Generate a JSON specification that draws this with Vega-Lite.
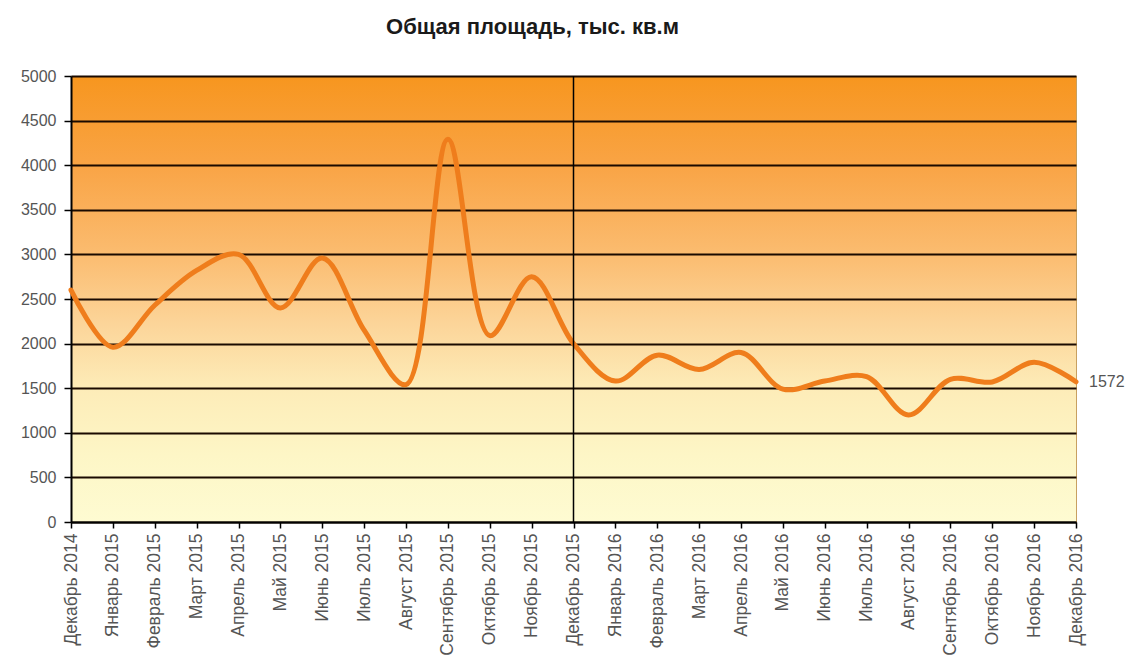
{
  "$schema": "https://vega.github.io/schema/vega-lite/v6.json",
  "autosize": "none",
  "width": 1005,
  "height": 446,
  "padding": {"left": 71, "top": 76, "right": 61, "bottom": 148},
  "background": "white",
  "title": {"text": "Общая площадь, тыс. кв.м", "font": "Liberation Sans", "fontSize": 22, "fontWeight": "bold", "color": "#1a1a1a", "anchor": "middle", "dx": -41, "offset": 29},
  "config": {"view": {"stroke": "#c8a060", "strokeWidth": 1, "fill": {"gradient": "linear", "x1": 0, "y1": 0, "x2": 0, "y2": 1, "stops": [
        {"offset": 0, "color": "#f7961f"},
        {"offset": 0.2, "color": "#f9a445"},
        {"offset": 0.4, "color": "#fbbc70"},
        {"offset": 0.55, "color": "#fcd498"},
        {"offset": 0.7, "color": "#fdecb8"},
        {"offset": 0.85, "color": "#fdf6c6"},
        {"offset": 1, "color": "#fefbd2"}
      ]}}, "font": "Liberation Sans"},
  "data": {"values": [
    {"month": "Декабрь 2014", "v": 2600},
    {"month": "Январь 2015", "v": 1960},
    {"month": "Февраль 2015", "v": 2430},
    {"month": "Март 2015", "v": 2820},
    {"month": "Апрель 2015", "v": 3000},
    {"month": "Май 2015", "v": 2400},
    {"month": "Июнь 2015", "v": 2960},
    {"month": "Июль 2015", "v": 2150},
    {"month": "Август 2015", "v": 1540},
    {"month": "Сентябрь 2015", "v": 4290},
    {"month": "Октябрь 2015", "v": 2090},
    {"month": "Ноябрь 2015", "v": 2750},
    {"month": "Декабрь 2015", "v": 2000},
    {"month": "Январь 2016", "v": 1580},
    {"month": "Февраль 2016", "v": 1870},
    {"month": "Март 2016", "v": 1710},
    {"month": "Апрель 2016", "v": 1900},
    {"month": "Май 2016", "v": 1490},
    {"month": "Июнь 2016", "v": 1580},
    {"month": "Июль 2016", "v": 1630},
    {"month": "Август 2016", "v": 1200},
    {"month": "Сентябрь 2016", "v": 1600},
    {"month": "Октябрь 2016", "v": 1570},
    {"month": "Ноябрь 2016", "v": 1790},
    {"month": "Декабрь 2016", "v": 1572}
  ]},
  "layer": [
    {
      "mark": {"type": "line", "interpolate": "catmull-rom", "color": "#ef7d1c", "strokeWidth": 5, "strokeCap": "round"},
      "encoding": {
        "x": {"field": "month", "type": "ordinal", "sort": null, "scale": {"type": "point", "padding": 0},
          "axis": {"title": null, "labelAngle": -90, "labelFontSize": 17.5, "labelColor": "#555555", "labelPadding": 5,
            "domainColor": "#000000", "domainWidth": 2, "tickColor": "#000000", "tickWidth": 1.5, "tickSize": 6, "grid": false}},
        "y": {"field": "v", "type": "quantitative", "scale": {"domain": [0, 5000], "nice": false},
          "axis": {"title": null, "format": "d", "values": [0,500,1000,1500,2000,2500,3000,3500,4000,4500,5000], "labelFontSize": 16, "labelColor": "#555555", "labelPadding": 8,
            "domainColor": "#000000", "domainWidth": 2, "tickColor": "#000000", "tickWidth": 1.5, "tickSize": 7,
            "grid": true, "gridColor": "#1a0a00", "gridWidth": 2, "gridOpacity": 1}}
      }
    },
    {
      "transform": [{"filter": "datum.month == 'Декабрь 2015'"}],
      "mark": {"type": "rule", "color": "#000000", "strokeWidth": 1.5},
      "encoding": {
        "x": {"field": "month", "type": "ordinal", "sort": null}
      }
    },
    {
      "transform": [{"filter": "datum.month == 'Декабрь 2016'"}],
      "mark": {"type": "text", "align": "left", "dx": 13, "fontSize": 16, "color": "#555555"},
      "encoding": {
        "x": {"field": "month", "type": "ordinal", "sort": null},
        "y": {"field": "v", "type": "quantitative"},
        "text": {"field": "v", "type": "quantitative", "format": "d"}
      }
    }
  ]
}
